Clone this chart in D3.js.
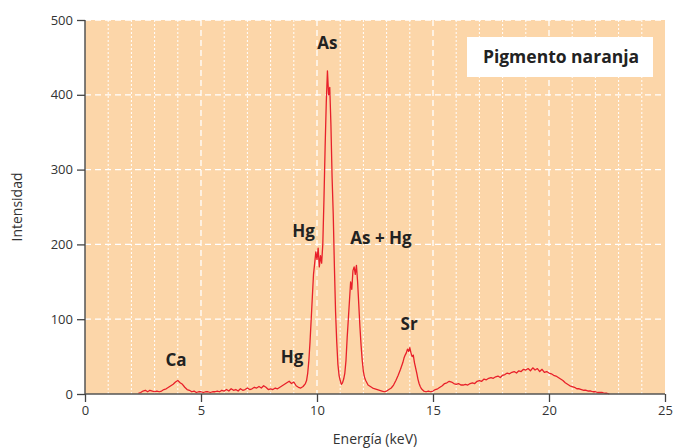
<!DOCTYPE html>
<html><head><meta charset="utf-8">
<script src="https://cdn.jsdelivr.net/npm/d3@7"></script>
<style>body{margin:0;background:#fff}svg{display:block}</style>
</head><body><svg id="c" width="674" height="448"></svg>
<script>
const energy = [2.3,2.4,2.5,2.6,2.7,2.8,2.9,3.0,3.1,3.2,3.3,3.4,3.5,3.6,3.7,3.8,3.9,4.0,4.1,4.2,4.3,4.4,4.5,4.6,4.7,4.8,4.9,5.0,5.1,5.2,5.3,5.4,5.5,5.6,5.7,5.8,5.9,6.0,6.1,6.2,6.3,6.4,6.5,6.6,6.7,6.8,6.9,7.0,7.1,7.2,7.3,7.4,7.5,7.6,7.7,7.8,7.9,8.0,8.1,8.2,8.3,8.4,8.5,8.6,8.7,8.8,8.9,9.0,9.1,9.2,9.3,9.4,9.5,9.55,9.6,9.65,9.7,9.75,9.8,9.85,9.9,9.95,10.0,10.05,10.1,10.15,10.2,10.25,10.3,10.35,10.4,10.45,10.5,10.55,10.6,10.65,10.7,10.75,10.8,10.85,10.9,10.95,11.0,11.05,11.1,11.15,11.2,11.25,11.3,11.35,11.4,11.45,11.5,11.55,11.6,11.65,11.7,11.75,11.8,11.85,11.9,11.95,12.0,12.05,12.1,12.15,12.2,12.3,12.4,12.5,12.6,12.7,12.8,12.9,13.0,13.1,13.2,13.3,13.4,13.5,13.6,13.7,13.75,13.8,13.85,13.9,13.95,14.0,14.05,14.1,14.15,14.2,14.25,14.3,14.35,14.4,14.45,14.5,14.6,14.7,14.8,14.9,15.0,15.1,15.2,15.3,15.4,15.5,15.6,15.7,15.8,15.9,16.0,16.1,16.2,16.3,16.4,16.5,16.6,16.7,16.8,16.9,17.0,17.1,17.2,17.3,17.4,17.5,17.6,17.7,17.8,17.9,18.0,18.1,18.2,18.3,18.4,18.5,18.6,18.7,18.8,18.9,19.0,19.1,19.2,19.3,19.4,19.5,19.6,19.7,19.8,19.9,20.0,20.1,20.2,20.3,20.4,20.5,20.6,20.7,20.8,20.9,21.0,21.1,21.2,21.3,21.4,21.5,21.6,21.7,21.8,21.9,22.0,22.1,22.2,22.3,22.4,22.5,22.6];
const intensity = [1,2,4,5,3,5,4,3,4,3,4,6,7,9,11,13,16,18,15,13,9,6,5,3,4,2,3,3,2,3,3,2,3,3,4,3,5,4,6,4,7,5,6,4,7,5,6,8,6,7,9,8,10,8,11,9,6,7,6,8,7,9,11,13,15,17,14,16,11,9,8,10,14,18,28,45,70,100,130,160,175,190,180,195,170,185,175,200,260,330,390,432,400,410,360,290,240,170,110,70,40,25,18,13,15,20,28,45,75,100,125,150,140,165,170,160,172,150,120,90,65,45,30,22,18,15,12,10,8,7,6,5,4,3,4,6,8,12,18,25,33,42,48,52,55,60,57,62,55,50,52,42,35,28,20,14,10,7,4,3,4,3,4,6,7,9,11,14,15,17,16,14,13,14,12,12,13,12,14,15,14,17,18,17,20,19,21,22,21,23,24,22,25,26,28,27,29,30,28,31,30,33,32,34,31,35,32,34,30,33,29,30,28,27,25,24,22,20,18,15,13,11,10,9,7,7,6,5,5,4,4,3,3,2,2,2,1,1,0];
const xTicks = [0,5,10,15,20,25];
const yTicks = [0,100,200,300,400,500];
const peakLabels = ["Ca","Hg","Hg","As","As + Hg","Sr"];
const peakE = [3.92,8.92,9.42,10.45,12.76,13.97];
const peakY = [37,41,210,461,200,86];
const legendText = "Pigmento naranja";

const svg = d3.select("#c");
const x = d3.scaleLinear().domain([0,25]).range([85,665]);
const y = d3.scaleLinear().domain([0,500]).range([394,20]);
const font = "'Open Sans', 'Noto Sans', sans-serif";

svg.append("rect").attr("x",x(0)).attr("y",y(500)).attr("width",x(25)-x(0)).attr("height",y(0)-y(500)).attr("fill","#fcd6a9");

const g = svg.append("g");
d3.range(1,25).forEach(v=>{
  const major = v%5===0;
  g.append("line").attr("x1",x(v)).attr("x2",x(v)).attr("y1",y(500)).attr("y2",y(0))
   .attr("stroke","#fff").attr("stroke-width",major?1.3:1)
   .attr("stroke-dasharray",major?"6,4":"2,2");
});
yTicks.slice(1).forEach(v=>{
  g.append("line").attr("x1",x(0)).attr("x2",x(25)).attr("y1",y(v)).attr("y2",y(v))
   .attr("stroke","#fff").attr("stroke-width",1.3).attr("stroke-dasharray","6,4");
});

const line = d3.line().x((d,i)=>x(energy[i])).y(d=>y(d));
svg.append("path").datum(intensity).attr("d",line).attr("fill","none")
  .attr("stroke","#e8202a").attr("stroke-width",1.3).attr("stroke-linejoin","round");

const xAxis = svg.append("g").attr("transform",`translate(0,${y(0)})`)
  .call(d3.axisBottom(x).tickValues(xTicks).tickSize(8).tickPadding(4));
const yAxis = svg.append("g").attr("transform",`translate(${x(0)},0)`)
  .call(d3.axisLeft(y).tickValues(yTicks).tickSize(8).tickPadding(4));
[xAxis,yAxis].forEach(a=>{
  a.select(".domain").attr("stroke","#555").attr("stroke-width",1.5);
  a.selectAll(".tick line").attr("stroke","#444").attr("stroke-width",1.3);
  a.selectAll("text").attr("font-family",font).attr("font-size",13).attr("fill","#333");
});
xAxis.select(".domain").attr("d",`M${x(0)},0H${x(25)}`);
yAxis.select(".domain").attr("d",`M0,${y(500)}V${y(0)}`);

peakLabels.forEach((t,i)=>{
  svg.append("text").attr("x",x(peakE[i])).attr("y",y(peakY[i])).attr("text-anchor","middle")
    .attr("font-family",font).attr("font-weight","bold").attr("font-size",17).attr("fill","#222").text(t);
});

svg.append("rect").attr("x",467).attr("y",37).attr("width",186).attr("height",40).attr("fill","#fff");
svg.append("text").attr("x",561).attr("y",63).attr("text-anchor","middle").attr("font-family",font)
  .attr("font-weight","bold").attr("font-size",17.5).attr("fill","#222").text(legendText);

svg.append("text").attr("x",375).attr("y",444).attr("text-anchor","middle").attr("font-family",font)
  .attr("font-size",14).attr("fill","#333").text("Energía (keV)");
svg.append("text").attr("transform",`translate(22,207) rotate(-90)`).attr("text-anchor","middle")
  .attr("font-family",font).attr("font-size",14).attr("fill","#333").text("Intensidad");
</script></body></html>
